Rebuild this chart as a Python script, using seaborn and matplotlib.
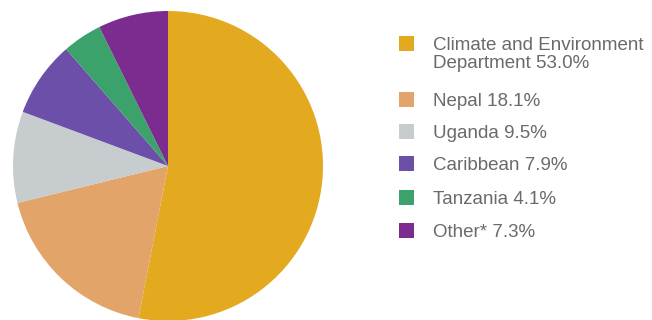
import matplotlib
matplotlib.use("Agg")
import matplotlib.pyplot as plt
import seaborn as sns
from matplotlib.patches import Rectangle

categories = ["Climate and Environment\nDepartment", "Nepal", "Uganda", "Caribbean", "Tanzania", "Other*"]
shares = [53.0, 18.1, 9.5, 7.9, 4.1, 7.3]
colors = ["#E3A91F", "#E3A46A", "#C7CCCF", "#6B4FA8", "#3BA26B", "#7B2C8E"]

sns.set_theme(style="white")
plt.rcParams["font.family"] = ["Liberation Sans", "DejaVu Sans"]

palette = sns.color_palette(colors)

fig = plt.figure(figsize=(6.52, 3.2), dpi=100)
W, H = 652, 320
cx, cy, r = 168, 166, 155
ax = fig.add_axes([(cx - r) / W, (H - cy - r) / H, 2 * r / W, 2 * r / H])
ax.pie(shares, colors=palette, startangle=90, counterclock=False, radius=1.0,
       wedgeprops=dict(linewidth=0))
ax.set_xlim(-1, 1)
ax.set_ylim(-1, 1)
ax.set_aspect("equal")
ax.axis("off")

# legend
row_y = [43, 99, 131, 163, 197, 230]
sq = 15
for i, (lab, val) in enumerate(zip(categories, shares)):
    y = row_y[i]
    fig.patches.append(Rectangle(((399) / W, (H - y - sq / 2) / H), sq / W, sq / H,
                                 transform=fig.transFigure, facecolor=palette[i],
                                 edgecolor="none"))
    text = f"{lab} {val:.1f}%"
    fig.text(433 / W, (H - y + 6) / H, text, ha="left", va="top", fontsize=13.5,
             color="#6a6a6a", linespacing=1.1)

fig.savefig("out.png", dpi=100, facecolor="white")
